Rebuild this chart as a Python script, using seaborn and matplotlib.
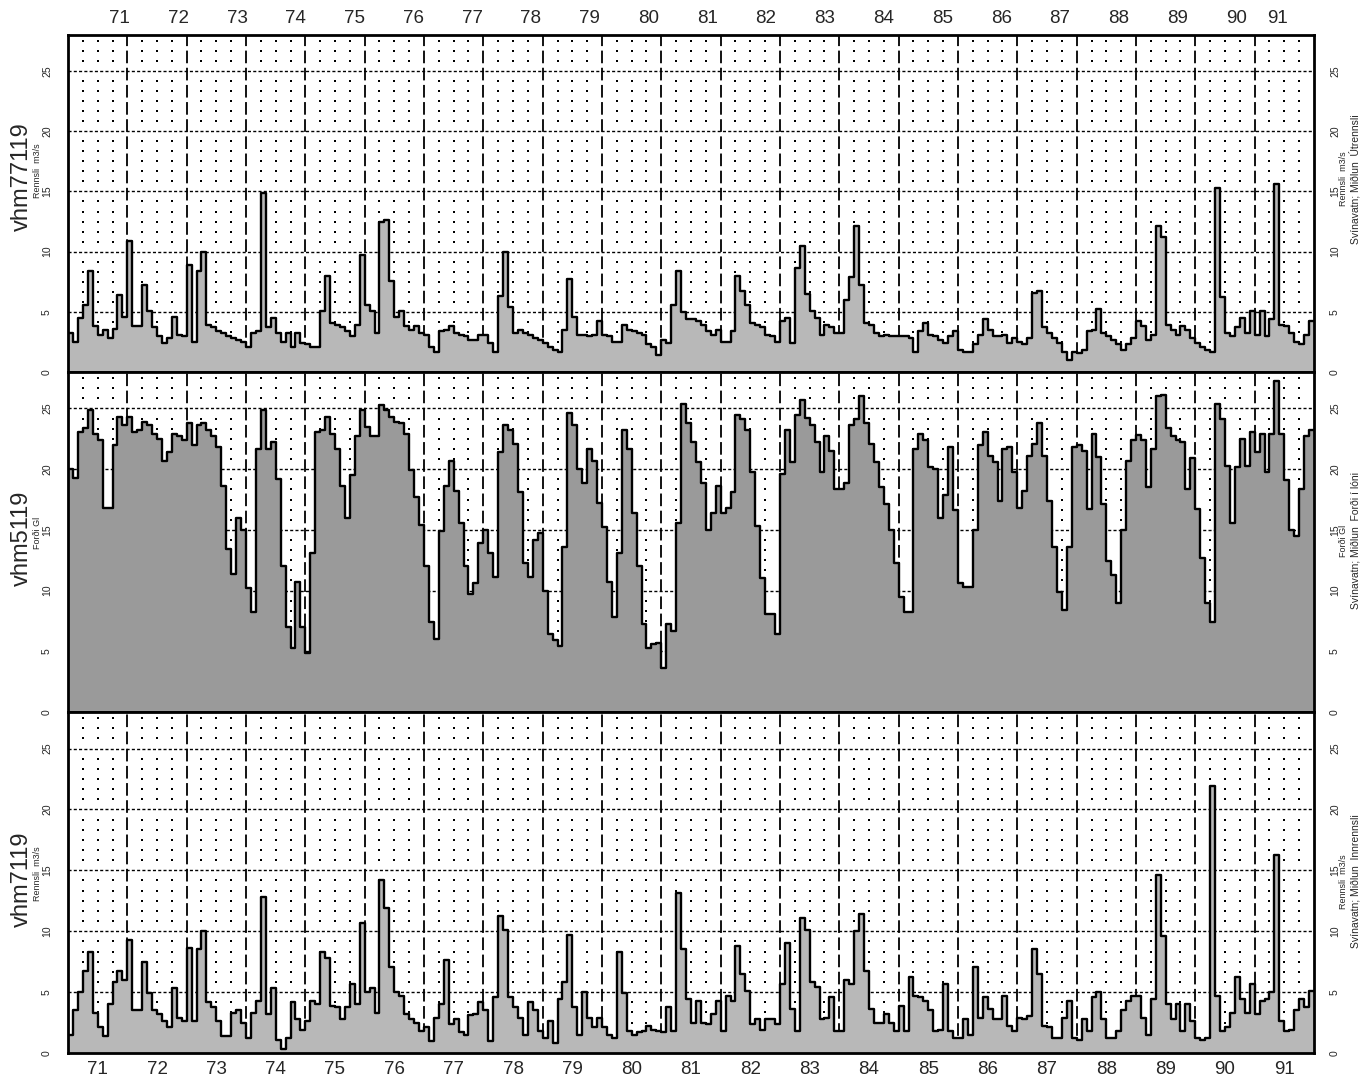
import numpy as np
import pandas as pd
import matplotlib
matplotlib.use("Agg")
import matplotlib.pyplot as plt
import seaborn as sns

# ---------------- data (monthly values, Jan 1971 .. Dec 1991) ----------------
year_labels = [str(y) for y in range(71, 92)]

outflow = [  # vhm77119  Rennsli m3/s
    3.2, 2.5, 4.5, 5.6, 8.4, 3.8, 3.1, 3.5, 2.8, 3.6, 6.4, 4.6,
    10.9, 3.8, 3.8, 7.2, 5.1, 3.7, 3.0, 2.4, 2.8, 4.6, 3.1, 3.0,
    8.9, 2.5, 8.4, 10.0, 3.9, 3.7, 3.4, 3.2, 3.0, 2.8, 2.7, 2.5,
    2.1, 3.2, 3.4, 14.9, 3.7, 4.5, 3.2, 2.5, 3.2, 2.1, 3.2, 2.4,
    2.3, 2.1, 2.1, 5.1, 8.0, 4.1, 3.9, 3.7, 3.4, 3.0, 3.9, 9.7,
    5.6, 5.1, 3.2, 12.5, 12.6, 7.6, 4.6, 5.1, 3.8, 3.5, 3.8, 3.2,
    3.1, 2.1, 1.7, 3.4, 3.5, 3.8, 3.2, 3.1, 3.0, 2.7, 2.7, 3.1,
    3.1, 2.4, 1.7, 6.3, 10.0, 5.4, 3.2, 3.5, 3.2, 3.1, 2.8, 2.7,
    2.4, 2.1, 1.8, 1.65, 3.5, 7.7, 4.6, 3.1, 3.1, 3.0, 3.1, 4.2,
    3.1, 3.0, 2.5, 2.5, 3.9, 3.5, 3.4, 3.2, 3.1, 2.3, 2.1, 1.4,
    2.7, 2.4, 5.6, 8.4, 5.0, 4.4, 4.4, 4.2, 3.9, 3.4, 3.1, 3.5,
    2.5, 2.5, 3.4, 8.0, 6.75, 5.6, 4.1, 3.9, 3.7, 3.1, 3.0, 2.5,
    4.2, 4.5, 2.4, 8.6, 10.5, 6.5, 5.1, 4.5, 3.1, 3.9, 3.7, 3.2,
    3.2, 6.0, 7.9, 12.1, 7.2, 4.1, 3.9, 3.2, 3.0, 3.1, 3.0, 3.0,
    3.0, 3.0, 2.8, 1.7, 3.4, 4.1, 3.1, 3.0, 2.7, 2.4, 3.0, 3.4,
    1.85, 1.7, 1.7, 2.3, 3.1, 4.4, 3.5, 3.0, 3.0, 3.1, 2.4, 2.8,
    2.5, 2.3, 2.8, 6.6, 6.75, 3.7, 3.2, 2.8, 2.4, 1.7, 1.0, 1.7,
    1.6, 1.85, 3.4, 3.5, 5.2, 3.2, 3.0, 2.7, 2.3, 1.85, 2.3, 2.8,
    4.2, 3.8, 2.7, 3.1, 12.1, 11.2, 3.9, 3.5, 3.1, 3.8, 3.5, 2.8,
    2.4, 2.1, 1.85, 1.7, 15.3, 6.2, 3.2, 3.0, 3.7, 4.5, 3.2, 5.1,
    3.1, 5.1, 3.0, 4.4, 15.6, 3.9, 3.8, 3.2, 2.5, 2.3, 3.1, 4.2,
]

storage = [  # vhm5119  Forði Gl
    20.0, 19.3, 23.1, 23.4, 24.9, 22.9, 22.4, 16.8, 16.8, 22.0, 24.3, 23.6,
    24.3, 23.1, 23.2, 23.9, 23.6, 22.9, 22.5, 20.7, 21.4, 22.9, 22.7, 22.4,
    23.8, 22.0, 23.6, 23.8, 23.2, 22.7, 21.8, 18.6, 13.4, 11.4, 16.0, 15.0,
    10.2, 8.2, 21.7, 24.9, 21.7, 22.2, 19.2, 12.0, 7.0, 5.3, 10.7, 7.0,
    4.9, 13.1, 23.1, 23.2, 24.3, 22.9, 21.7, 18.6, 16.0, 19.5, 22.7, 24.9,
    23.5, 22.7, 22.7, 25.3, 24.9, 24.3, 23.9, 23.8, 22.9, 19.9, 17.7, 15.4,
    12.0, 7.4, 6.0, 14.9, 18.6, 20.7, 18.2, 15.6, 12.0, 9.75, 10.6, 13.9,
    15.0, 13.1, 11.1, 21.4, 23.6, 23.2, 22.1, 18.1, 12.3, 11.1, 14.2, 14.75,
    10.0, 6.4, 5.9, 5.4, 13.6, 24.6, 23.6, 20.0, 18.9, 21.7, 20.7, 17.25,
    15.2, 10.7, 7.8, 13.1, 23.2, 21.7, 16.4, 12.0, 7.25, 5.3, 5.6, 5.7,
    3.6, 7.25, 6.7, 15.6, 25.4, 23.8, 22.25, 20.6, 18.9, 15.0, 16.4, 18.6,
    16.4, 16.8, 18.1, 24.5, 24.1, 23.2, 19.75, 15.3, 11.0, 8.1, 8.1, 6.4,
    19.6, 23.2, 20.6, 24.5, 25.7, 24.2, 23.6, 22.25, 19.75, 22.7, 21.5, 18.4,
    18.4, 18.9, 23.6, 24.1, 26.0, 23.8, 22.1, 20.6, 18.5, 17.1, 15.0, 12.25,
    9.5, 8.2, 8.2, 21.7, 22.9, 22.4, 20.2, 20.0, 16.0, 17.9, 21.8, 16.6,
    10.6, 10.3, 10.3, 15.0, 22.0, 23.1, 21.1, 20.6, 17.4, 21.7, 21.8, 19.75,
    16.8, 18.2, 21.1, 22.1, 23.8, 21.1, 17.4, 13.6, 9.9, 8.4, 13.6, 21.8,
    22.0, 21.5, 16.7, 22.9, 21.0, 17.1, 12.4, 11.3, 9.0, 15.0, 20.7, 22.4,
    22.8, 22.4, 18.5, 21.7, 26.0, 26.1, 23.4, 22.7, 22.4, 22.25, 18.4, 20.9,
    16.7, 12.7, 9.0, 7.4, 25.4, 24.1, 20.3, 15.6, 20.2, 22.5, 20.3, 23.1,
    21.4, 22.9, 19.75, 22.9, 27.25, 22.9, 19.1, 15.0, 14.5, 18.4, 22.7, 23.2,
]

inflow = [  # vhm7119  Rennsli m3/s
    1.5, 3.5, 5.0, 6.7, 8.3, 3.3, 2.1, 1.4, 4.0, 5.8, 6.7, 6.0,
    9.3, 3.5, 3.5, 7.5, 4.9, 3.5, 3.2, 2.6, 2.1, 5.3, 2.9, 2.6,
    8.6, 2.6, 8.5, 10.0, 4.2, 3.75, 2.6, 1.4, 1.4, 3.3, 3.5, 2.5,
    1.25, 3.3, 4.3, 12.8, 3.2, 5.3, 1.1, 0.3, 1.25, 4.2, 2.8, 1.9,
    2.6, 4.3, 4.0, 8.3, 7.8, 3.9, 3.75, 2.8, 3.75, 5.7, 4.0, 10.7,
    5.0, 5.3, 3.3, 14.2, 11.9, 7.1, 5.0, 4.7, 3.2, 2.8, 2.5, 1.8,
    2.1, 1.0, 2.9, 4.0, 7.6, 2.4, 2.8, 1.7, 1.5, 3.1, 3.2, 4.2,
    3.5, 1.0, 4.6, 11.25, 10.1, 4.6, 3.75, 2.9, 1.5, 4.2, 3.5, 1.8,
    1.25, 2.6, 0.8, 4.4, 5.8, 9.7, 3.75, 1.5, 5.0, 2.9, 2.1, 2.9,
    2.1, 1.5, 1.25, 8.3, 4.9, 1.8, 1.5, 1.7, 1.8, 2.2, 1.9, 1.8,
    1.7, 3.75, 1.8, 13.1, 8.5, 4.4, 2.5, 4.3, 2.5, 2.4, 3.2, 4.3,
    1.8, 4.7, 4.3, 8.75, 6.5, 5.1, 2.4, 2.8, 1.9, 2.8, 2.8, 2.4,
    5.7, 9.0, 3.6, 1.8, 11.1, 10.1, 5.8, 5.4, 2.8, 2.9, 4.6, 1.8,
    1.8, 6.0, 5.7, 10.0, 11.4, 6.7, 3.6, 2.5, 2.5, 3.2, 2.5, 1.8,
    3.9, 1.8, 6.25, 4.7, 4.6, 4.3, 3.5, 1.8, 1.9, 5.7, 1.8, 1.25,
    1.25, 2.8, 1.5, 7.1, 2.9, 4.6, 3.6, 2.8, 2.8, 4.7, 2.2, 1.8,
    2.9, 2.8, 3.0, 8.5, 6.5, 2.2, 2.1, 1.25, 1.25, 2.9, 4.3, 1.25,
    1.1, 2.8, 1.8, 4.6, 5.0, 2.8, 1.25, 1.25, 1.8, 3.5, 4.3, 4.7,
    4.7, 2.9, 1.5, 4.4, 14.6, 9.6, 4.0, 2.8, 4.0, 1.8, 4.0, 2.6,
    1.25, 1.1, 1.25, 21.9, 4.7, 1.8, 2.1, 3.3, 6.25, 4.4, 3.3, 5.7,
    3.2, 4.3, 4.4, 5.0, 16.25, 2.6, 1.8, 1.9, 3.5, 4.4, 3.75, 5.1,
]

y_ticks = [0, 5, 10, 15, 20, 25]

panels = [
    dict(values=outflow, name="vhm77119", unit="Rennsli  m3/s",
         desc="Svínavatn; Miðlun  Útrennsli", fill="#b8b8b8", cy=0.42),
    dict(values=storage, name="vhm5119", unit="Forði Gl",
         desc="Svínavatn; Miðlun  Forði í lóni", fill="#9a9a9a", cy=0.49),
    dict(values=inflow, name="vhm7119", unit="Rennsli  m3/s",
         desc="Svínavatn; Miðlun  Innrennsli", fill="#b8b8b8", cy=0.49),
]

# ---------------- style ----------------
sns.set_style("white")
plt.rcParams["font.family"] = ["Liberation Sans", "DejaVu Sans"]

W, H = 1371, 1087
fig = plt.figure(figsize=(W / 100, H / 100), dpi=100)
fig.patch.set_facecolor("white")

left_px, right_px = 68, 1314
bounds = [(35, 372), (372, 712), (712, 1053)]

n_months = len(outflow)
top_label_pos = [10.4 + 11.89 * i for i in range(20)] + [244.7]
bottom_label_pos = [12 * i + 6 for i in range(21)]

for i, (p, (t, b)) in enumerate(zip(panels, bounds)):
    ax = fig.add_axes([left_px / W, 1 - b / H, (right_px - left_px) / W, (b - t) / H])
    vals = list(p["values"])
    df = pd.DataFrame({"month": np.arange(n_months + 1), "value": vals + [vals[-1]]})

    # grid: yearly long dashes, 5-unit fine dashes, dotted quarter lines
    for m in range(12, n_months, 12):
        ax.axvline(m, color="black", lw=1.3, ls=(0, (7, 2.5)), zorder=1)
    for yv in range(5, 28, 5):
        ax.axhline(yv, color="black", lw=1.0, ls=(0, (2.2, 1.6)), zorder=1)
    qx = [m for m in range(3, n_months, 3) if m % 12]
    qy = [5 * k + j * 5 / 6 for k in range(6) for j in range(1, 6) if 5 * k + j * 5 / 6 < 28]
    gx, gy = np.meshgrid(qx, qy)
    ax.scatter(gx.ravel(), gy.ravel(), s=3.5, c="black", marker="s", lw=0, zorder=1)

    ax.fill_between(df["month"], df["value"], step="post", color=p["fill"], lw=0, zorder=2)
    sns.lineplot(data=df, x="month", y="value", drawstyle="steps-post", color="black",
                 lw=1.7, ax=ax, legend=False, zorder=3)

    ax.set_xlim(0, n_months)
    ax.set_ylim(0, 28)
    ax.set_xlabel("")
    ax.set_ylabel("")
    ax.set_yticks(y_ticks)
    ax.set_yticklabels([str(v) for v in y_ticks])
    ax.tick_params(axis="y", left=False, right=False, labelleft=True, labelright=True,
                   labelsize=7.5, labelrotation=90, pad=8)
    for lab in ax.get_yticklabels():
        lab.set_va("center")
    if i == 0:
        ax.xaxis.set_ticks_position("top")
        ax.set_xticks(top_label_pos)
        ax.set_xticklabels(year_labels)
        ax.tick_params(axis="x", top=False, bottom=False, labeltop=True, labelbottom=False,
                       labelsize=13.5, pad=2)
    elif i == 2:
        ax.set_xticks(bottom_label_pos)
        ax.set_xticklabels(year_labels)
        ax.tick_params(axis="x", top=False, bottom=False, labeltop=False, labelbottom=True,
                       labelsize=13.5, pad=2)
    else:
        ax.set_xticks([])
    for s in ax.spines.values():
        s.set_linewidth(2.0)
        s.set_color("black")
        s.set_zorder(5)

    cy = 1 - (t + (b - t) * p["cy"]) / H
    fig.text(22 / W, cy, p["name"], rotation=90, fontsize=17, ha="center", va="center")
    fig.text(38 / W, cy + 0.005, p["unit"], rotation=90, fontsize=6.5, ha="center", va="center")
    fig.text(1343 / W, cy - 0.002, p["unit"], rotation=90, fontsize=6.5, ha="center", va="center")
    fig.text(1355 / W, cy - 0.002, p["desc"], rotation=90, fontsize=7.5, ha="center", va="center")

fig.savefig("out.png", dpi=100, facecolor="white")
